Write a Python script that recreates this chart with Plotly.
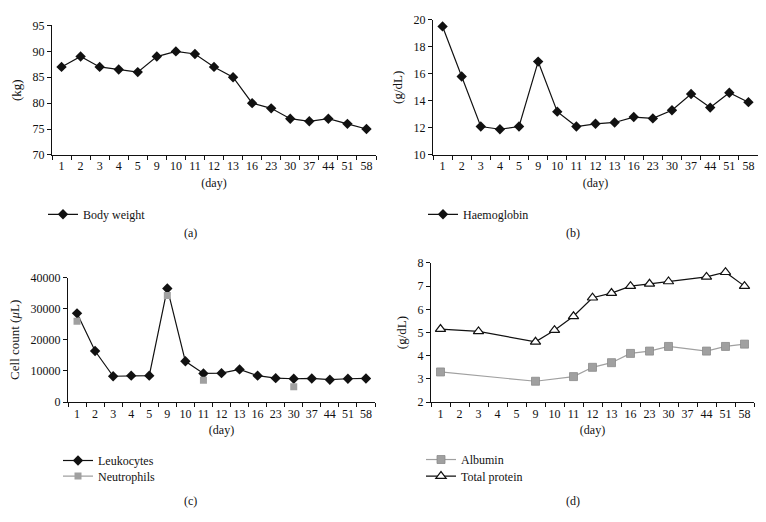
import plotly.graph_objects as go

days = ["1", "2", "3", "4", "5", "9", "10", "11", "12", "13", "16", "23", "30", "37", "44", "51", "58"]

body_weight = [87, 89, 87, 86.5, 86, 89, 90, 89.5, 87, 85, 80, 79, 77, 76.5, 77, 76, 75]
haemoglobin = [19.5, 15.8, 12.1, 11.9, 12.1, 16.9, 13.2, 12.1, 12.3, 12.4, 12.8, 12.7, 13.3, 14.5, 13.5, 14.6, 13.9]
leukocytes = [28500, 16400, 8300, 8500, 8500, 36500, 13100, 9200, 9300, 10500, 8500, 7700, 7500, 7600, 7200, 7500, 7600]
neutrophils = [26000, None, None, None, None, 34200, None, 7000, None, None, None, None, 4900, None, None, None, None]
albumin = [3.3, None, None, None, None, 2.9, None, 3.1, 3.5, 3.7, 4.1, 4.2, 4.4, None, 4.2, 4.4, 4.5]
total_protein = [5.15, None, 5.05, None, None, 4.6, 5.1, 5.7, 6.5, 6.7, 7.0, 7.1, 7.2, None, 7.4, 7.6, 7.0]

W, H = 766, 522
FONT = "Liberation Serif, DejaVu Serif, serif"
BLACK = "#111111"
GRAY = "#a0a0a0"

def px(x):
    return x / W

def py(y):
    return 1 - y / H

fig = go.Figure()

diamond = dict(symbol="diamond", size=8, color=BLACK)

fig.add_trace(go.Scatter(x=days, y=body_weight, mode="lines+markers", name="Body weight",
                         line=dict(color=BLACK, width=1.2), marker=diamond,
                         xaxis="x", yaxis="y", legend="legend"))
fig.add_trace(go.Scatter(x=days, y=haemoglobin, mode="lines+markers", name="Haemoglobin",
                         line=dict(color=BLACK, width=1.2), marker=diamond,
                         xaxis="x2", yaxis="y2", legend="legend2"))
fig.add_trace(go.Scatter(x=days, y=leukocytes, mode="lines+markers", name="Leukocytes",
                         line=dict(color=BLACK, width=1.2), marker=diamond,
                         xaxis="x3", yaxis="y3", legend="legend3"))
fig.add_trace(go.Scatter(x=days, y=neutrophils, mode="lines+markers", name="Neutrophils",
                         connectgaps=False,
                         line=dict(color=GRAY, width=1.2),
                         marker=dict(symbol="square", size=7, color=GRAY),
                         xaxis="x3", yaxis="y3", legend="legend4"))
fig.add_trace(go.Scatter(x=days, y=albumin, mode="lines+markers", name="Albumin",
                         connectgaps=True,
                         line=dict(color=GRAY, width=1.2),
                         marker=dict(symbol="square", size=8, color=GRAY,
                                     line=dict(color="#8a8a8a", width=0.8)),
                         xaxis="x4", yaxis="y4", legend="legend5"))
fig.add_trace(go.Scatter(x=days, y=total_protein, mode="lines+markers", name="Total protein",
                         connectgaps=True,
                         line=dict(color=BLACK, width=1.2),
                         marker=dict(symbol="triangle-up", size=9, color="white",
                                     line=dict(color=BLACK, width=1.2)),
                         xaxis="x4", yaxis="y4", legend="legend6"))

tickfont = dict(family=FONT, size=12, color=BLACK)

def xax(x0, x1, anchor):
    return dict(domain=[px(x0), px(x1)], anchor=anchor, type="category",
                categoryorder="array", categoryarray=days,
                range=[-0.5, len(days) - 0.5], tickangle=0,
                tickson="boundaries", ticks="outside", ticklen=4, tickcolor=BLACK,
                showline=True, linecolor=BLACK, linewidth=1, showgrid=False,
                zeroline=False, tickfont=tickfont,
                title=dict(text="(day)", font=tickfont, standoff=6))

def yax(y_top, y_bot, rng, dtick, title, anchor, fmt=None):
    d = dict(domain=[py(y_bot), py(y_top)], anchor=anchor, range=rng, dtick=dtick,
             ticks="outside", ticklen=4, tickcolor=BLACK,
             showline=True, linecolor=BLACK, linewidth=1, showgrid=False,
             zeroline=False, tickfont=tickfont,
             title=dict(text=title, font=dict(family=FONT, size=13, color=BLACK), standoff=8))
    if fmt:
        d["tickformat"] = fmt
    return d

legfont = dict(family=FONT, size=12, color=BLACK)

def leg(text_x, y):
    return dict(x=px(text_x - 40), y=py(y), xanchor="left", yanchor="middle", font=legfont,
                bgcolor="rgba(0,0,0,0)", itemwidth=30, tracegroupgap=0)

fig.update_layout(
    width=W, height=H, margin=dict(l=0, r=0, t=0, b=0),
    plot_bgcolor="white", paper_bgcolor="white",
    font=dict(family=FONT, color=BLACK),
    xaxis=xax(52, 376, "y"),
    yaxis=yax(19, 152, [70, 95], 5, "(kg)", "x"),
    xaxis2=xax(433, 758, "y2"),
    yaxis2=yax(13, 152, [10, 20], 2, "(g/dL)", "x2"),
    xaxis3=xax(68, 375, "y3"),
    yaxis3=yax(278, 406, [0, 40000], 10000, "Cell count (<i>μ</i>L)", "x3", fmt="d"),
    xaxis4=xax(431, 754, "y4"),
    yaxis4=yax(263, 406, [2, 8], 1, "(g/dL)", "x4"),
    legend=leg(83, 213),
    legend2=leg(463, 213),
    legend3=leg(98, 466),
    legend4=leg(98, 482),
    legend5=leg(461, 465),
    legend6=leg(461, 482),
    showlegend=True,
)

for label, x, y in [("(a)", 190, 232), ("(b)", 573, 232), ("(c)", 190, 508), ("(d)", 573, 508)]:
    fig.add_annotation(text=label, x=px(x), y=py(y), xref="paper", yref="paper",
                       showarrow=False, font=dict(family=FONT, size=12, color=BLACK),
                       xanchor="center", yanchor="middle")

fig.write_html("out.html", config={"displayModeBar": False},
               post_script="document.body.style.margin='0';document.body.style.padding='0';"
                           "document.documentElement.style.overflow='hidden';")
